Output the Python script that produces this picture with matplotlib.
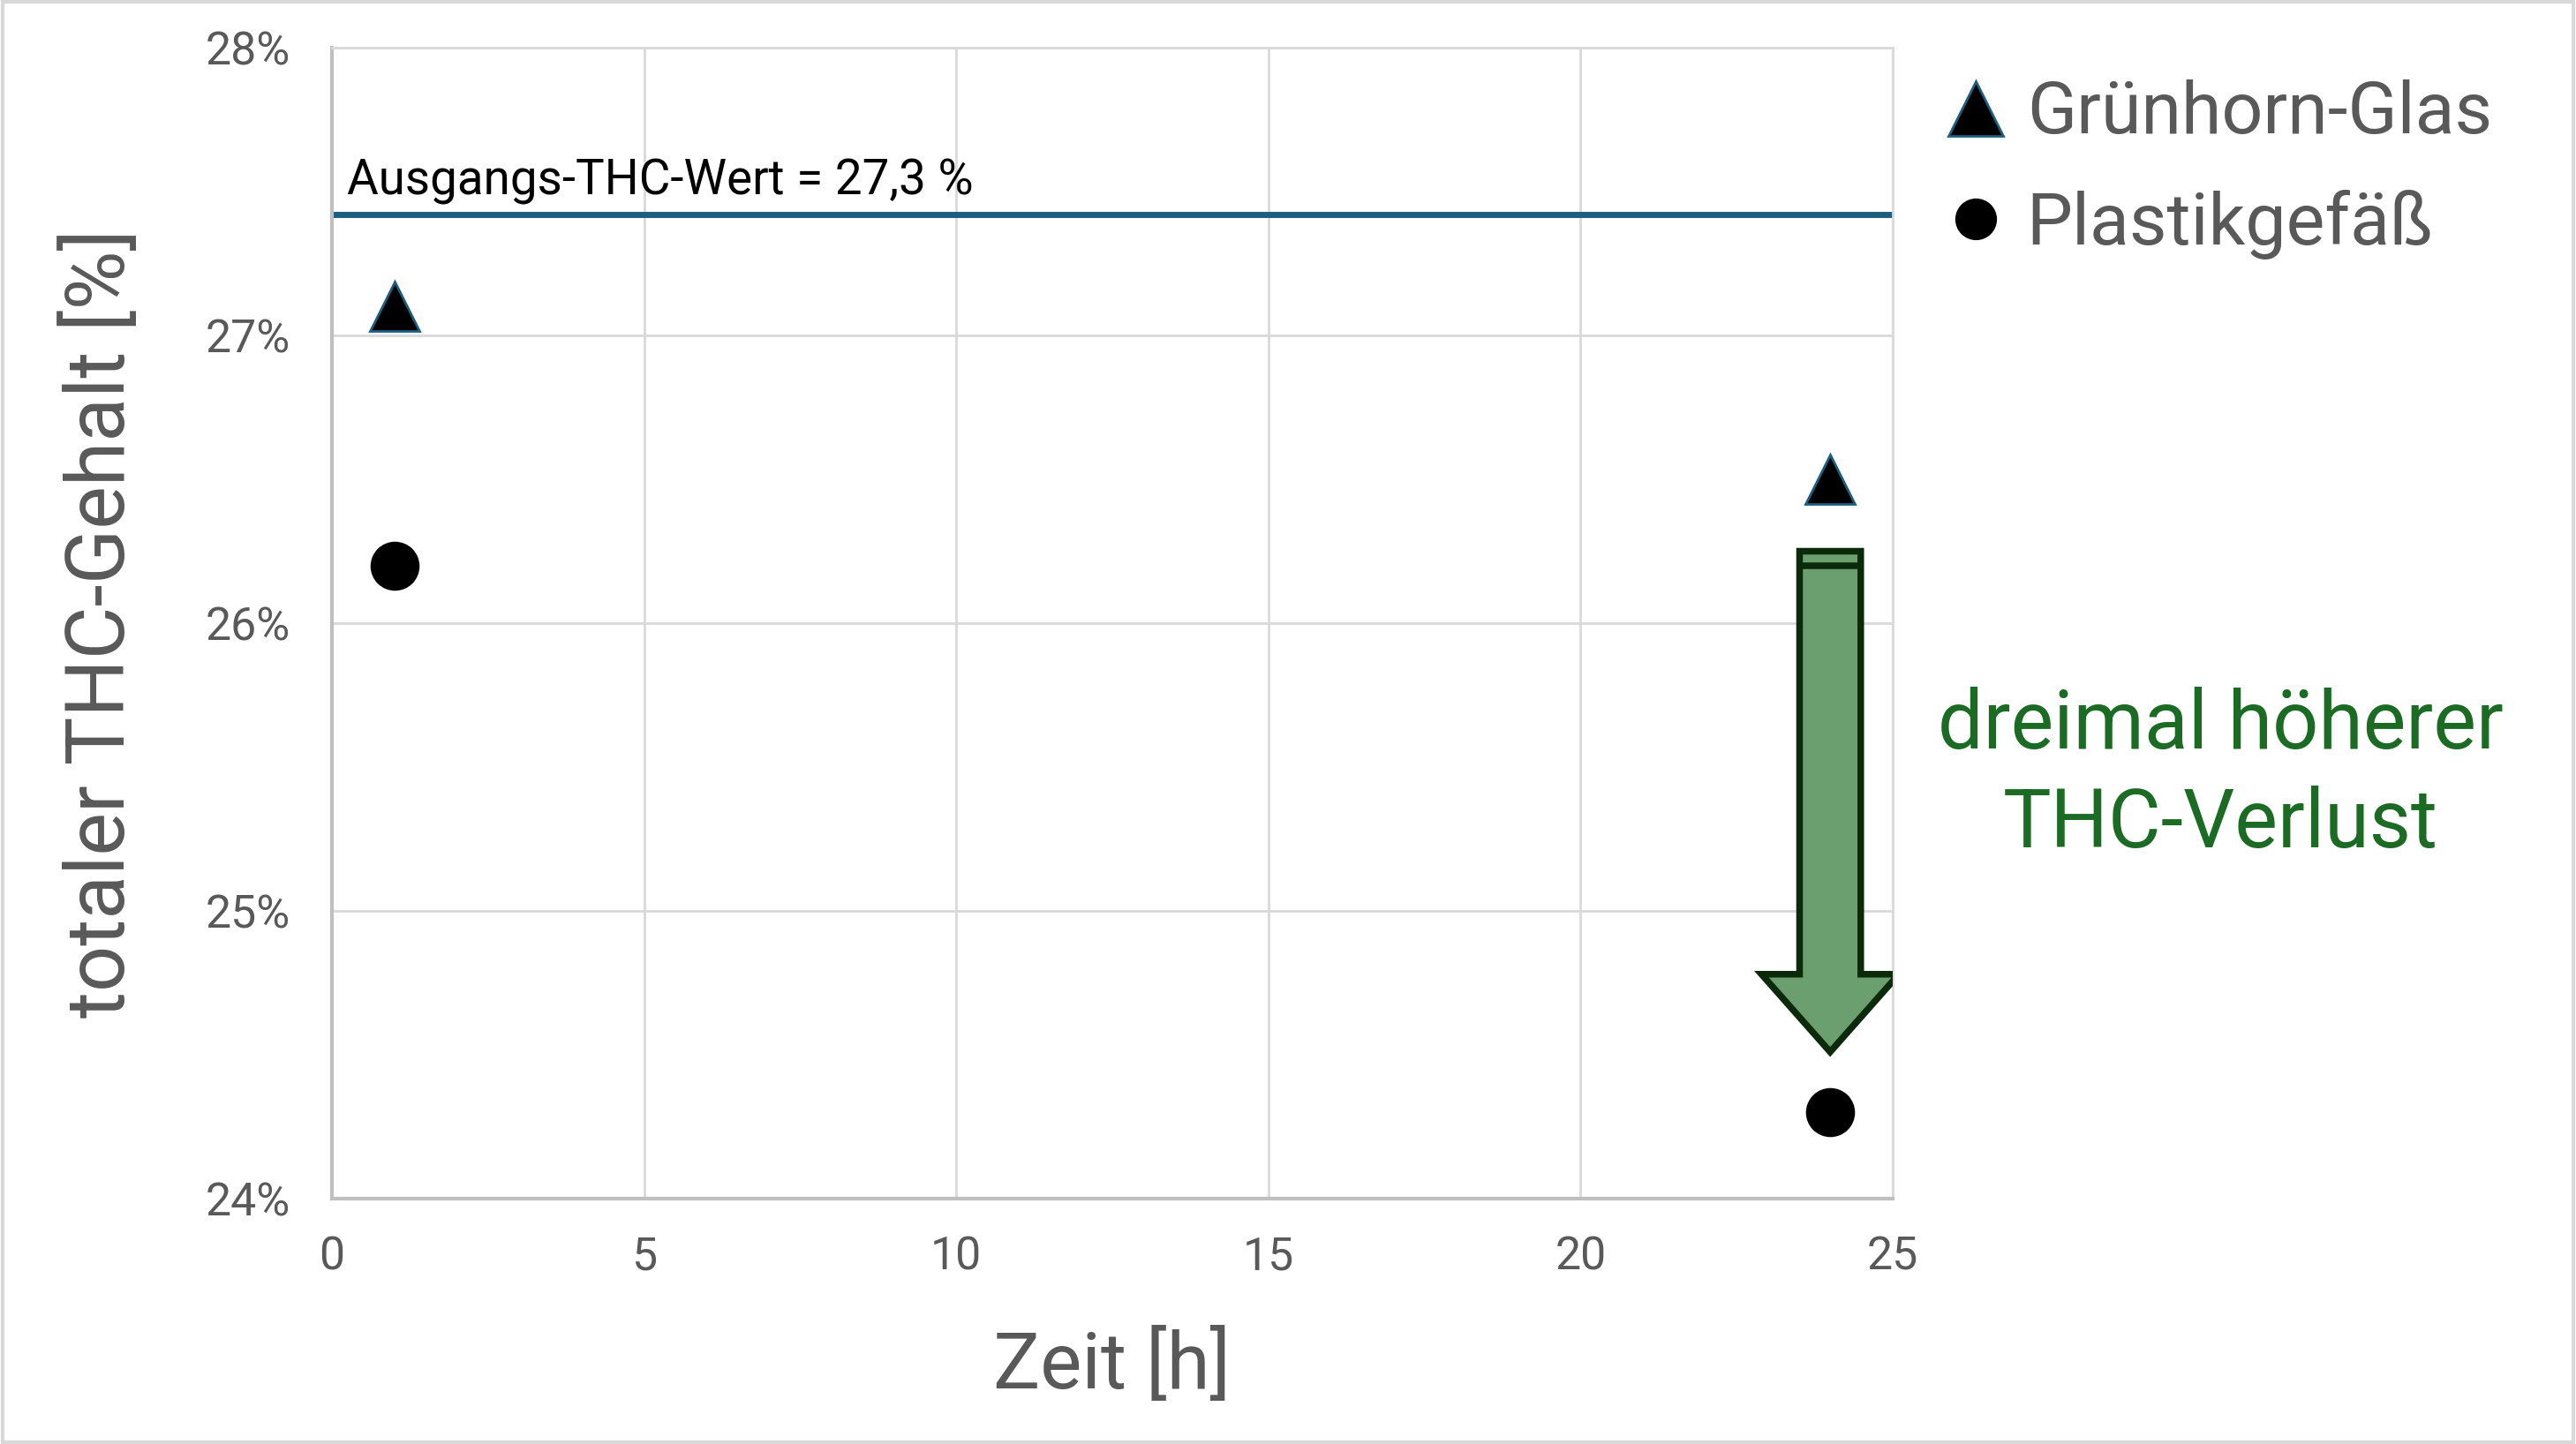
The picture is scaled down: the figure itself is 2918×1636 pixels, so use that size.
import matplotlib
matplotlib.use("Agg")
import matplotlib.pyplot as plt
import matplotlib.patches as mpatches
from matplotlib.ticker import FuncFormatter

plt.rcParams['font.family'] = ['Roboto', 'DejaVu Sans']

# data
zeit = [1, 24]
glas = [27.1, 26.5]
plastik = [26.2, 24.3]
ausgang = 27.42
ausgang_text = "Ausgangs-THC-Wert = 27,3 %"

x_ticks = [0, 5, 10, 15, 20, 25]
y_ticks = [24, 25, 26, 27, 28]

grey = '#595959'
blue = '#1d5f7e'

fig = plt.figure(figsize=(14.59, 8.18), dpi=200)
ax = fig.add_axes([0.1289, 0.1699, 0.6058, 0.7971])

ax.axhline(ausgang, color=blue, lw=2.5, zorder=2)
ax.text(0.24, 27.49, ausgang_text, fontsize=19.7, color='black', va='baseline')

ax.plot(zeit, glas, linestyle='none', marker='^', ms=20, color='black',
        markeredgecolor=blue, markeredgewidth=1, label='Grünhorn-Glas', zorder=4)
ax.plot(zeit, plastik, linestyle='none', marker='o', ms=19, color='black',
        label='Plastikgefäß', zorder=4)

# arrow between the two 24h values
top = 26.25
tip = 24.51
arr = mpatches.FancyArrow(zeit[1], top, 0, tip - top, width=0.98, head_width=2.2,
                          head_length=0.27, length_includes_head=True,
                          facecolor='#6b9f6f', edgecolor='#0a2a0a', lw=2.7, zorder=3)
ax.add_patch(arr)
ax.plot([zeit[1] - 0.49, zeit[1] + 0.49], [26.2, 26.2], color='#0a2a0a', lw=2.7,
        solid_capstyle='butt', zorder=3)

ax.set_xlim(0, 25)
ax.set_ylim(24, 28)
ax.set_xticks(x_ticks)
ax.set_yticks(y_ticks)
ax.yaxis.set_major_formatter(FuncFormatter(lambda v, p: f"{v:.0f}%"))
ax.tick_params(length=0, labelsize=18.7, labelcolor=grey)
ax.tick_params(axis='y', pad=17)
ax.tick_params(axis='x', pad=15)
ax.grid(True, color='#d9d9d9', lw=1)
ax.set_axisbelow(True)
for s in ['top', 'right']:
    ax.spines[s].set_color('#d9d9d9')
    ax.spines[s].set_linewidth(1)
for s in ['left', 'bottom']:
    ax.spines[s].set_color('#bfbfbf')
    ax.spines[s].set_linewidth(1.5)

ax.set_xlabel('Zeit [h]', fontsize=32, color=grey, labelpad=20)
ax.set_ylabel('totaler THC-Gehalt [%]', fontsize=33, color=grey, labelpad=26)

leg = ax.legend(loc='upper left', bbox_to_anchor=(0.733, 0.980), bbox_transform=fig.transFigure,
                frameon=False, fontsize=29.7, labelcolor=grey, handletextpad=0.2,
                labelspacing=0.56, handlelength=1.0, borderpad=0.2)
leg.legend_handles[0].set_markersize(22)
leg.legend_handles[1].set_markersize(16)

fig.text(0.862, 0.463, "dreimal höherer\nTHC-Verlust", fontsize=33, color='#1b6b24',
         ha='center', va='center', multialignment='center', linespacing=1.33)

fig.patches.append(mpatches.Rectangle((0.001, 0.001), 0.998, 0.998, transform=fig.transFigure,
                                      fill=False, edgecolor='#d9d9d9', lw=1.5))

fig.savefig('out.png', dpi=200)
